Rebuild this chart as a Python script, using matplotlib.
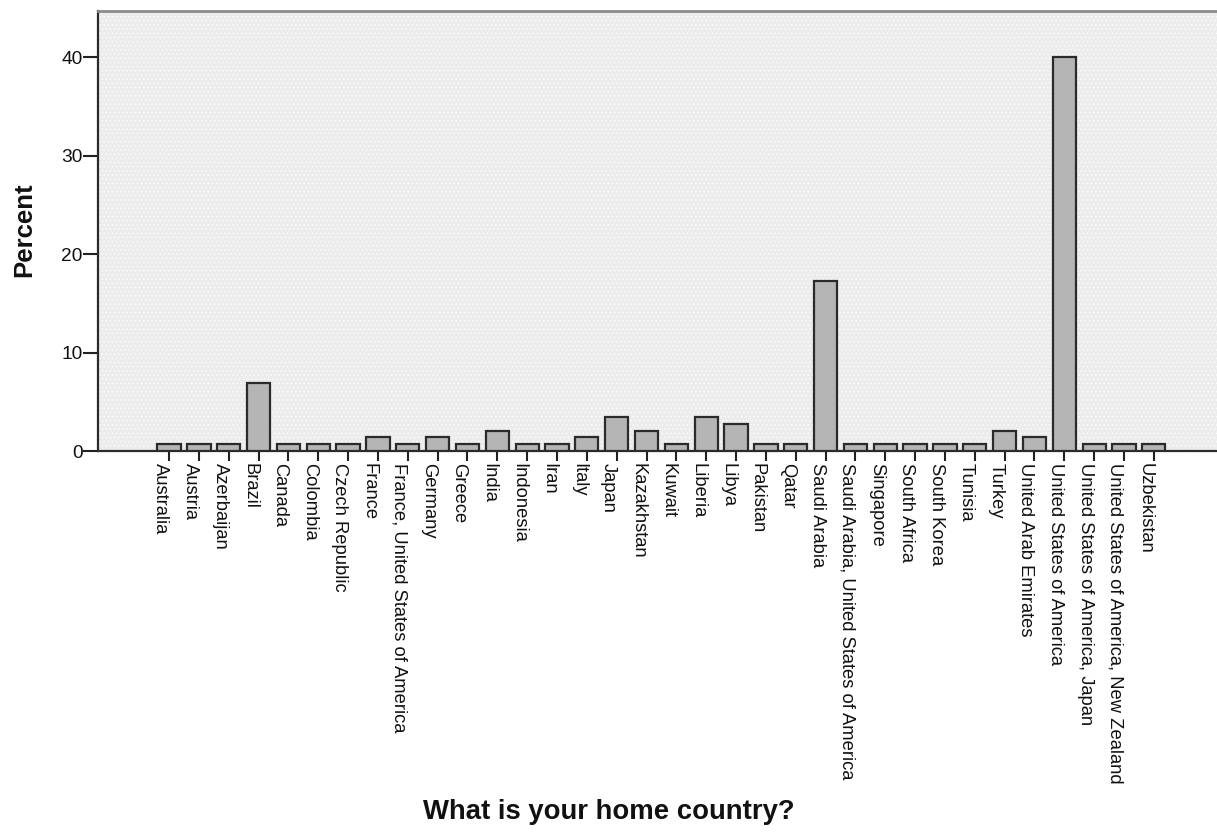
import matplotlib
matplotlib.use("Agg")
import matplotlib.pyplot as plt
import matplotlib.transforms as mtransforms

countries = [
    "Australia", "Austria", "Azerbaijan", "Brazil", "Canada", "Colombia",
    "Czech Republic", "France", "France, United States of America", "Germany",
    "Greece", "India", "Indonesia", "Iran", "Italy", "Japan", "Kazakhstan",
    "Kuwait", "Liberia", "Libya", "Pakistan", "Qatar", "Saudi Arabia",
    "Saudi Arabia, United States of America", "Singapore", "South Africa",
    "South Korea", "Tunisia", "Turkey", "United Arab Emirates",
    "United States of America", "United States of America, Japan",
    "United States of America, New Zealand", "Uzbekistan",
]
percent = [
    0.69, 0.69, 0.69, 6.90, 0.69, 0.69,
    0.69, 1.38, 0.69, 1.38,
    0.69, 2.07, 0.69, 0.69, 1.38, 3.45, 2.07,
    0.69, 3.45, 2.76, 0.69, 0.69, 17.24,
    0.69, 0.69, 0.69,
    0.69, 0.69, 2.07, 1.38,
    40.00, 0.69,
    0.69, 0.69,
]
yticks = [0, 10, 20, 30, 40]

plt.rcParams['font.family'] = ['Liberation Sans', 'DejaVu Sans']
plt.rcParams['hatch.color'] = '#fbfbfb'
plt.rcParams['hatch.linewidth'] = 0.6

W, H = 1217, 832
fig = plt.figure(figsize=(W / 100, H / 100), dpi=100)
fig.patch.set_facecolor("white")
left, right, top, bottom = 98, 1218, 11, 451
ax = fig.add_axes([left / W, 1 - bottom / H, (right - left) / W, (bottom - top) / H])
ax.set_facecolor("#ececec")
ax.patch.set_hatch("....")
ax.patch.set_edgecolor("#fbfbfb")

x = list(range(len(countries)))
ax.bar(x, percent, width=0.78, color="#b5b5b5", edgecolor="#2b2b2b", linewidth=1.6, zorder=3)

ax.set_xlim(-2.38, len(countries) - 1 + 2.15)
ax.set_ylim(0, 44.7)
ax.set_yticks(yticks)
ax.set_yticklabels([str(v) for v in yticks], fontsize=13.8, color="#111111")
ax.set_xticks(x)
ax.set_xticklabels(countries, rotation=270, fontsize=13.2, color="#111111",
                   ha="right", va="top", rotation_mode="default")
offset = mtransforms.ScaledTranslation(3.5 / 100, 0, fig.dpi_scale_trans)
for lab in ax.get_xticklabels():
    lab.set_transform(lab.get_transform() + offset)

ax.tick_params(axis="y", length=10.5, width=1.5, pad=0.5, color="#222222")
ax.tick_params(axis="x", length=7.5, width=1.5, pad=1, color="#222222")

for s in ["left", "bottom"]:
    ax.spines[s].set_color("#2b2b2b")
    ax.spines[s].set_linewidth(1.6)
ax.spines["top"].set_color("#8a8a8a")
ax.spines["top"].set_linewidth(2.0)
ax.spines["right"].set_visible(False)

fig.text(24 / W, 1 - 230 / H, "Percent", rotation=90, ha="center", va="center",
         fontsize=18.5, fontweight="bold", color="#111111")
fig.text(609 / W, 1 - 812 / H, "What is your home country?", ha="center", va="center",
         fontsize=19.8, fontweight="bold", color="#111111")

fig.savefig("out.png", dpi=100)
